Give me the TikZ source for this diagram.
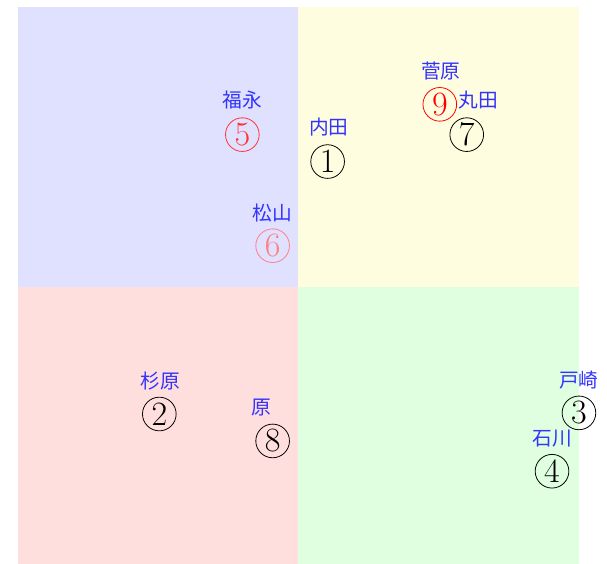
\documentclass[tikz,border=0pt]{standalone}
\usepackage{fontspec}
\usepackage{tikz}
\usepackage{xcolor}
\newfontfamily\jpfont{Noto Sans CJK JP}

\begin{document}
\begin{tikzpicture}[
  num/.style={circle, draw, inner sep=0pt, minimum size=0.6cm, font=\LARGE},
  who/.style={text=blue!80, font=\jpfont\normalsize, inner sep=1pt}]
  \useasboundingbox (-5.32,-4.94) rectangle (5.50,5.11);
  \fill[blue!12] (-5,0) rectangle (0,4.98); \fill[yellow!12] (0,0) rectangle (5,4.98);
  \fill[red!13] (-5,-4.94) rectangle (0,0); \fill[green!12] (0,-4.94) rectangle (5,0);
  \node[num] (uchida) at (0.52,2.23) {1}; \node[who] (uchidaL) at (0.54,2.84) {内田};
  \node[num] (sugihara) at (-2.48,-2.27) {2}; \node[who] (sugiharaL) at (-2.46,-1.68) {杉原};
  \node[num] (tozaki) at (5.0,-2.25) {3}; \node[who] (tozakiL) at (5.0,-1.66) {戸崎};
  \node[num] (ishikawa) at (4.52,-3.29) {4}; \node[who] (ishikawaL) at (4.52,-2.70) {石川};
  \node[num, red!80] (fukunaga) at (-1.0,2.71) {5}; \node[who] (fukunagaL) at (-1.0,3.32) {福永};
  \node[num, red!50] (matsuyama) at (-0.46,0.73) {6}; \node[who] (matsuyamaL) at (-0.46,1.32) {松山};
  \node[num] (maruta) at (3.0,2.71) {7}; \node[who] (marutaL) at (3.21,3.32) {丸田};
  \node[num] (hara) at (-0.46,-2.75) {8}; \node[who] (haraL) at (-0.66,-2.16) {原};
  \node[num, red] (sugawara) at (2.52,3.25) {9}; \node[who] (sugawaraL) at (2.54,3.84) {菅原};
\end{tikzpicture}
\end{document}
